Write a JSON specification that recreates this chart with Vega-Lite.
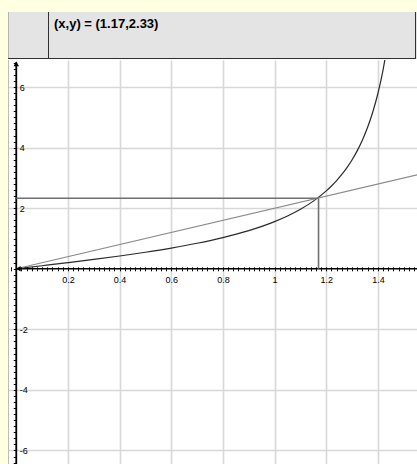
{
  "$schema": "https://vega.github.io/schema/vega-lite/v6.json",
  "background": "#ffffe1",
  "padding": {"left": 7, "top": 11, "right": 0, "bottom": 0},
  "spacing": 0,
  "config": {
    "view": {"stroke": null},
    "axis": {"labelFont": "Liberation Sans", "labelFontSize": 9, "labelColor": "#000000", "title": null}
  },
  "datasets": {
    "curve": [
      {"x": 0, "y": 0}, {"x": 0.1, "y": 0.1003}, {"x": 0.2, "y": 0.2027}, {"x": 0.3, "y": 0.3093},
      {"x": 0.4, "y": 0.4228}, {"x": 0.5, "y": 0.5463}, {"x": 0.6, "y": 0.6841}, {"x": 0.7, "y": 0.8423},
      {"x": 0.8, "y": 1.0296}, {"x": 0.9, "y": 1.2602}, {"x": 1.0, "y": 1.5574}, {"x": 1.05, "y": 1.7433},
      {"x": 1.1, "y": 1.9648}, {"x": 1.15, "y": 2.2345}, {"x": 1.2, "y": 2.5722}, {"x": 1.22, "y": 2.7345},
      {"x": 1.24, "y": 2.913}, {"x": 1.26, "y": 3.114}, {"x": 1.28, "y": 3.341}, {"x": 1.3, "y": 3.602},
      {"x": 1.32, "y": 3.903}, {"x": 1.34, "y": 4.256}, {"x": 1.36, "y": 4.673}, {"x": 1.38, "y": 5.179},
      {"x": 1.4, "y": 5.797}, {"x": 1.42, "y": 6.58}, {"x": 1.44, "y": 7.6}
    ],
    "secant": [{"x": 0, "y": 0}, {"x": 1.6, "y": 3.2}],
    "guides": [
      {"x": 0, "x2": 1.17, "y": 2.33, "y2": 2.33},
      {"x": 1.17, "x2": 1.17, "y": 0, "y2": 2.33}
    ],
    "xaxisline": [{"x": 0, "x2": 1.6, "y": 0}],
    "yaxisline": [{"x": 0, "y": -7, "y2": 6.82}],
    "toparrow": [{"x": 0, "y": 6.77}],
    "leftarrow": [{"x": 0.008, "y": 0}],
    "leftedge": [{"x": -0.0305, "y": -7, "y2": 7}]
  },
  "vconcat": [
    {
      "width": 410,
      "height": 47,
      "view": {"fill": "#e4e4e4", "stroke": null},
      "layer": [
        {
          "data": {"values": [{"px": 0.5, "py": 0, "py2": 47}]},
          "mark": {"type": "rule", "color": "#b4b4b4", "strokeWidth": 1},
          "encoding": {
            "x": {"field": "px", "type": "quantitative", "scale": {"domain": [0, 410], "nice": false}, "axis": null},
            "y": {"field": "py", "type": "quantitative", "scale": {"domain": [0, 47], "nice": false}, "axis": null},
            "y2": {"field": "py2"}
          }
        },
        {
          "data": {"values": [{"px": 40.5, "py": 0, "py2": 47}, {"px": 407.5, "py": 0, "py2": 47}]},
          "mark": {"type": "rule", "color": "#303030", "strokeWidth": 1},
          "encoding": {
            "x": {"field": "px", "type": "quantitative", "scale": {"domain": [0, 410], "nice": false}, "axis": null},
            "y": {"field": "py", "type": "quantitative", "scale": {"domain": [0, 47], "nice": false}, "axis": null},
            "y2": {"field": "py2"}
          }
        },
        {
          "data": {"values": [{"px": 0, "px2": 408, "py": 0.5}]},
          "mark": {"type": "rule", "color": "#303030", "strokeWidth": 1},
          "encoding": {
            "x": {"field": "px", "type": "quantitative", "scale": {"domain": [0, 410], "nice": false}, "axis": null},
            "x2": {"field": "px2"},
            "y": {"field": "py", "type": "quantitative", "scale": {"domain": [0, 47], "nice": false}, "axis": null}
          }
        },
        {
          "data": {"values": [{"label": "(x,y) = (1.17,2.33)", "px": 46, "py": 35}]},
          "mark": {"type": "text", "align": "left", "baseline": "middle", "font": "Liberation Sans", "fontSize": 13, "fontWeight": "bold", "color": "#000000"},
          "encoding": {
            "x": {"field": "px", "type": "quantitative", "scale": {"domain": [0, 410], "nice": false}, "axis": null},
            "y": {"field": "py", "type": "quantitative", "scale": {"domain": [0, 47], "nice": false}, "axis": null},
            "text": {"field": "label"}
          }
        }
      ]
    },
    {
      "width": 410,
      "height": 406,
      "view": {"fill": "#ffffff", "stroke": null},
      "resolve": {"axis": {"x": "independent", "y": "independent"}},
      "layer": [
        {
          "data": {"name": "xaxisline"},
          "mark": {"type": "rule", "color": "#000000", "strokeWidth": 1.5},
          "encoding": {
            "x": {"field": "x", "type": "quantitative",
              "scale": {"domain": [-0.032, 1.555], "nice": false, "zero": false},
              "axis": {"orient": "bottom", "grid": true, "domain": false, "ticks": false, "labels": false,
                "values": [0.2, 0.4, 0.6, 0.8, 1, 1.2, 1.4], "gridColor": "#d8d8d8", "gridWidth": 1.6, "gridOpacity": 1, "zindex": 0}},
            "x2": {"field": "x2"},
            "y": {"field": "y", "type": "quantitative",
              "scale": {"domain": [-6.513, 6.895], "nice": false, "zero": false},
              "axis": {"orient": "left", "grid": true, "domain": false, "ticks": false, "labels": false,
                "values": [-6, -4, -2, 2, 4, 6], "gridColor": "#d8d8d8", "gridWidth": 1.6, "gridOpacity": 1, "zindex": 0}}
          }
        },
        {
          "data": {"name": "leftedge"},
          "mark": {"type": "rule", "color": "#b4b4b4", "strokeWidth": 1, "clip": true},
          "encoding": {
            "x": {"field": "x", "type": "quantitative", "scale": {"domain": [-0.032, 1.555], "nice": false, "zero": false}, "axis": null},
            "y": {"field": "y", "type": "quantitative", "scale": {"domain": [-6.513, 6.895], "nice": false, "zero": false}, "axis": null},
            "y2": {"field": "y2"}
          }
        },
        {
          "data": {"name": "yaxisline"},
          "mark": {"type": "rule", "color": "#000000", "strokeWidth": 1.8, "clip": true},
          "encoding": {
            "x": {"field": "x", "type": "quantitative",
              "scale": {"domain": [-0.032, 1.555], "nice": false, "zero": false},
              "axis": {"orient": "bottom", "offset": -197.2, "grid": false, "domain": false, "ticks": false, "labelPadding": 7,
                "values": [0.2, 0.4, 0.6, 0.8, 1, 1.2, 1.4], "labelExpr": "'' + datum.value", "zindex": 1}},
            "y": {"field": "y", "type": "quantitative",
              "scale": {"domain": [-6.513, 6.895], "nice": false, "zero": false},
              "axis": {"orient": "right", "offset": -401.73, "grid": false, "domain": false, "ticks": false, "labelPadding": 3,
                "values": [-6, -4, -2, 2, 4, 6], "labelExpr": "datum.value < 0 ? '-' + abs(datum.value) : '' + datum.value", "zindex": 1}},
            "y2": {"field": "y2"}
          }
        },
        {
          "data": {"name": "curve"},
          "mark": {"type": "line", "color": "#2a2a2a", "strokeWidth": 1.2, "clip": true, "interpolate": "monotone"},
          "encoding": {
            "x": {"field": "x", "type": "quantitative",
              "scale": {"domain": [-0.032, 1.555], "nice": false, "zero": false},
              "axis": {"orient": "bottom", "offset": -197.2, "grid": false, "domain": false, "labels": false,
                "tickCount": 80, "tickSize": 2, "tickColor": "#000000", "tickWidth": 1, "zindex": 1}},
            "y": {"field": "y", "type": "quantitative",
              "scale": {"domain": [-6.513, 6.895], "nice": false, "zero": false},
              "axis": {"orient": "left", "offset": -8.27, "grid": false, "domain": false, "labels": false,
                "tickCount": 67, "tickSize": 3, "tickColor": "#000000", "tickWidth": 1, "zindex": 1}}
          }
        },
        {
          "data": {"name": "secant"},
          "mark": {"type": "line", "color": "#8a8a8a", "strokeWidth": 1.2, "clip": true},
          "encoding": {
            "x": {"field": "x", "type": "quantitative",
              "scale": {"domain": [-0.032, 1.555], "nice": false, "zero": false},
              "axis": {"orient": "top", "offset": -208.8, "grid": false, "domain": false, "labels": false,
                "tickCount": 80, "tickSize": 2, "tickColor": "#000000", "tickWidth": 1, "zindex": 1}},
            "y": {"field": "y", "type": "quantitative",
              "scale": {"domain": [-6.513, 6.895], "nice": false, "zero": false}, "axis": null}
          }
        },
        {
          "data": {"name": "guides"},
          "mark": {"type": "rule", "color": "#707070", "strokeWidth": 1.6},
          "encoding": {
            "x": {"field": "x", "type": "quantitative", "scale": {"domain": [-0.032, 1.555], "nice": false, "zero": false}, "axis": null},
            "x2": {"field": "x2"},
            "y": {"field": "y", "type": "quantitative", "scale": {"domain": [-6.513, 6.895], "nice": false, "zero": false}, "axis": null},
            "y2": {"field": "y2"}
          }
        },
        {
          "data": {"name": "toparrow"},
          "mark": {"type": "point", "shape": "triangle-up", "filled": true, "color": "#000000", "size": 30, "opacity": 1},
          "encoding": {
            "x": {"field": "x", "type": "quantitative", "scale": {"domain": [-0.032, 1.555], "nice": false, "zero": false}, "axis": null},
            "y": {"field": "y", "type": "quantitative", "scale": {"domain": [-6.513, 6.895], "nice": false, "zero": false}, "axis": null}
          }
        },
        {
          "data": {"name": "leftarrow"},
          "mark": {"type": "point", "shape": "triangle-left", "filled": true, "color": "#000000", "size": 30, "opacity": 1},
          "encoding": {
            "x": {"field": "x", "type": "quantitative", "scale": {"domain": [-0.032, 1.555], "nice": false, "zero": false}, "axis": null},
            "y": {"field": "y", "type": "quantitative", "scale": {"domain": [-6.513, 6.895], "nice": false, "zero": false}, "axis": null}
          }
        }
      ]
    }
  ]
}
